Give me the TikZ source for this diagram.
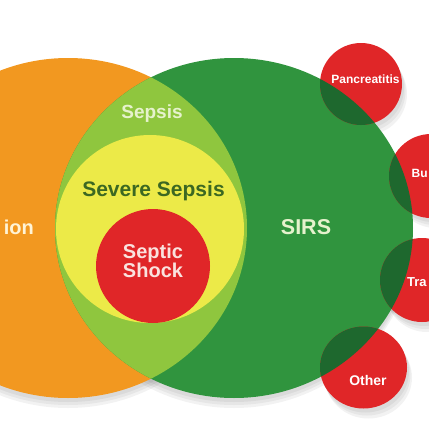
\documentclass[tikz,border=0pt]{standalone}
\usepackage{fontspec}
\setmainfont{Liberation Sans}
\definecolor{orangec}{RGB}{242,152,32}
\definecolor{greenc}{RGB}{48,148,62}
\definecolor{lightg}{RGB}{143,198,62}
\definecolor{yellowc}{RGB}{236,234,72}
\definecolor{redc}{RGB}{224,38,40}
\definecolor{darkg}{RGB}{30,104,46}
\definecolor{paleg}{RGB}{230,242,205}
\definecolor{olive}{RGB}{60,104,34}
\definecolor{palep}{RGB}{250,226,222}
\definecolor{palew}{RGB}{255,244,214}
\tikzset{
  lbl/.style={font=\bfseries, inner sep=0pt, align=center},
  small/.style={lbl, text=white},
  shad/.style={fill=black, opacity=0.05}
}
\begin{document}
\begin{tikzpicture}[x=1pt,y=-1pt]
\useasboundingbox (0,0) rectangle (429,429);
\clip (0,0) rectangle (429,429);
% shadows
\foreach \d in {4,7,10}{
  \fill[shad] (68,228+\d) ellipse [x radius=179, y radius=170];
  \fill[shad] (234,228+\d) ellipse [x radius=179, y radius=170];
  \fill[shad] (361+\d/2,84+\d) circle (41);
  \fill[shad] (431+\d/2,176+\d) circle (42);
  \fill[shad] (422+\d/2,280+\d) circle (42);
  \fill[shad] (363.5+\d/2,367.5+\d) ellipse [x radius=43.5, y radius=41];
}
% big circles
\fill[orangec] (68,228) ellipse [x radius=179, y radius=170];
\fill[greenc] (234,228) ellipse [x radius=179, y radius=170];
\begin{scope}
  \clip (68,228) ellipse [x radius=179, y radius=170];
  \fill[lightg] (234,228) ellipse [x radius=179, y radius=170];
  \clip (234,228) ellipse [x radius=179, y radius=170];
  \fill[yellowc] (150,229) circle (94);
\end{scope}
\fill[redc] (153,266) circle (57);
% small circles
\fill[redc] (361,84) circle (41);
\fill[redc] (431,176) circle (42);
\fill[redc] (422,280) circle (42);
\fill[redc] (363.5,367.5) ellipse [x radius=43.5, y radius=41];
\begin{scope}
  \clip (234,228) ellipse [x radius=179, y radius=170];
  \fill[darkg] (361,84) circle (41);
  \fill[darkg] (431,176) circle (42);
  \fill[darkg] (422,280) circle (42);
  \fill[darkg] (363.5,367.5) ellipse [x radius=43.5, y radius=41];
\end{scope}
% labels
\node[lbl, text=palew, font=\bfseries\fontsize{20}{22}\selectfont, anchor=east] (inf) at (34,227) {ion};
\node[lbl, text=paleg, font=\bfseries\fontsize{19}{21}\selectfont] (sepsis) at (152,114) {Sepsis};
\node[lbl, text=olive, font=\bfseries\fontsize{21}{23}\selectfont] (severe) at (153.5,191) {Severe Sepsis};
\node[lbl, text=palep, font=\bfseries\fontsize{20}{19}\selectfont] (shock) at (153,261) {Septic\\Shock};
\node[lbl, text=paleg, font=\bfseries\fontsize{21.5}{23}\selectfont] (sirs) at (306,227) {SIRS};
\node[small, font=\bfseries\fontsize{12}{14}\selectfont] (panc) at (365.5,79) {Pancreatitis};
\node[small, font=\bfseries\fontsize{12}{14}\selectfont, anchor=west] (burns) at (411.5,173) {Bu};
\node[small, font=\bfseries\fontsize{13}{15}\selectfont, anchor=west] (trauma) at (407,282) {Tra};
\node[small, font=\bfseries\fontsize{14}{16}\selectfont] (other) at (368,380) {Other};
\end{tikzpicture}
\end{document}
